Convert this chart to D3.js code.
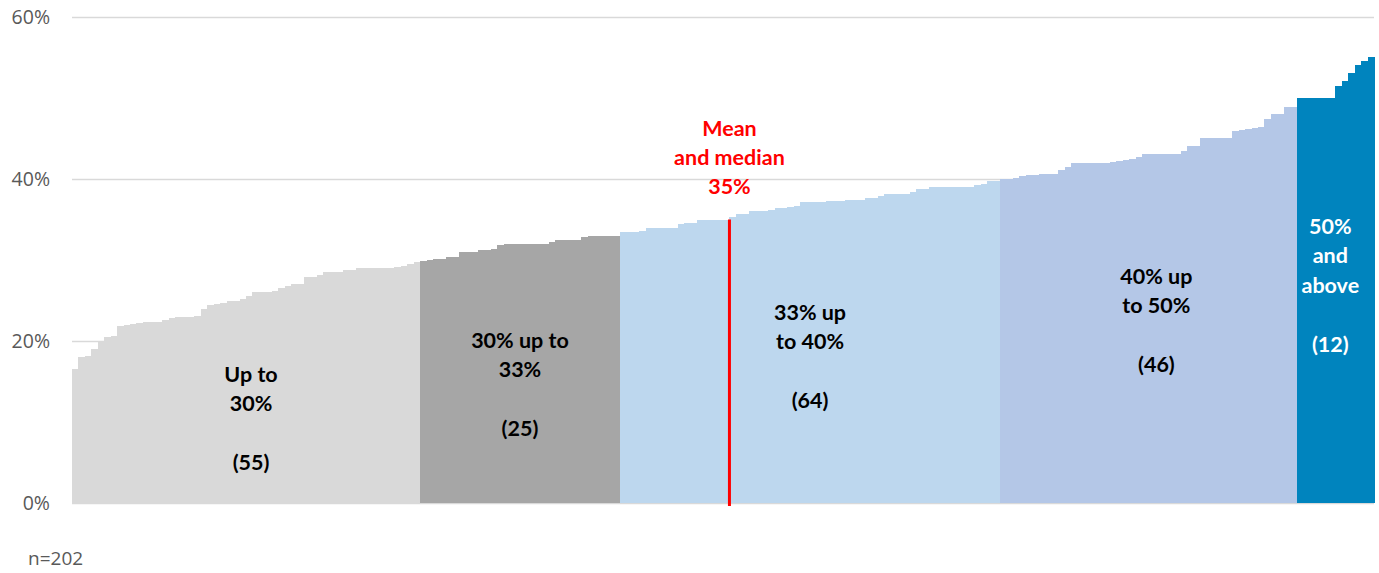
<!DOCTYPE html>
<html>
<head>
<meta charset="utf-8">
<script src="https://cdn.jsdelivr.net/npm/d3@7"></script>
<style>
  body { margin: 0; background: #fff; }
  svg { display: block; }
  .tick text { font-family: "Open Sans", sans-serif; }
</style>
</head>
<body>
<div id="canvas"></div>
<script>
// sorted values, one per respondent (%)
const values = [
  16.5, 18.0, 18.2, 19.0, 20.0, 20.5, 20.6, 21.8, 22.0, 22.1,
  22.2, 22.3, 22.3, 22.4, 22.6, 22.8, 23.0, 23.0, 23.0, 23.1,
  24.0, 24.5, 24.6, 24.7, 24.9, 25.0, 25.2, 25.5, 26.0, 26.0,
  26.0, 26.2, 26.5, 26.8, 27.0, 27.0, 27.9, 27.9, 28.1, 28.5,
  28.5, 28.5, 28.8, 28.8, 29.0, 29.0, 29.0, 29.0, 29.0, 29.0,
  29.1, 29.3, 29.5, 29.7,
  29.9, 30.0, 30.1, 30.1, 30.4, 30.4, 31.0, 31.0, 31.0, 31.2,
  31.2, 31.4, 31.9, 32.0, 32.0, 32.0, 32.0, 32.0, 32.0, 32.0,
  32.2, 32.5, 32.5, 32.5, 32.5, 32.8, 33.0, 33.0, 33.0, 33.0,
  33.0,
  33.4, 33.4, 33.4, 33.6, 34.0, 34.0, 34.0, 34.0, 34.0, 34.4,
  34.6, 34.6, 34.9, 34.9, 35.0, 35.0, 35.0, 35.3, 35.7, 35.7,
  36.0, 36.0, 36.0, 36.2, 36.4, 36.4, 36.6, 36.7, 37.1, 37.1,
  37.1, 37.1, 37.3, 37.3, 37.3, 37.45, 37.45, 37.45, 37.7, 37.7,
  37.9, 38.1, 38.1, 38.1, 38.2, 38.4, 38.8, 38.8, 39.05, 39.05,
  39.05, 39.05, 39.05, 39.05, 39.05, 39.3, 39.4, 39.7, 39.8,
  40.0, 40.0, 40.1, 40.4, 40.5, 40.5, 40.6, 40.6, 40.6, 41.1,
  41.5, 42.0, 42.0, 42.0, 42.0, 42.0, 42.0, 42.1, 42.2, 42.35,
  42.5, 42.7, 43.1, 43.1, 43.1, 43.1, 43.1, 43.1, 43.5, 44.1,
  44.1, 45.1, 45.1, 45.1, 45.1, 45.1, 45.9, 46.0, 46.2, 46.3,
  46.4, 47.4, 48.0, 48.0, 48.9, 48.9,
  50.0, 50.0, 50.0, 50.0, 50.0, 50.0, 51.5, 52.1, 53.1, 54.1,
  54.6, 55.1
];

// number of bars drawn in each band (left to right)
const groupSizes = [54, 31, 59, 46, 12];
const groupColors = ["#d9d9d9", "#a6a6a6", "#bdd7ee", "#b4c7e7", "#0084be"];
const groupLabels = [
  ["Up to", "30%", "", "(55)"],
  ["30% up to", "33%", "", "(25)"],
  ["33% up", "to 40%", "", "(64)"],
  ["40% up", "to 50%", "", "(46)"],
  ["50%", "and", "above", "", "(12)"]
];
const yTicks = [0, 20, 40, 60];
const meanValue = 35;
const meanLabel = ["Mean", "and median", "35%"];
const footnote = "n=202";

const W = 1379, H = 573;
const margin = {top: 17, right: 5, bottom: 70, left: 72};
const width = W - margin.left - margin.right;
const height = H - margin.top - margin.bottom;

// first-line y of each band label (page px), x shift from band centre
const labelTop = [374, 340, 312, 276, 226];
const labelShift = [5, 0, 0, 8, -5];
const lineH = 29.5;

// which band each bar belongs to
const groupOf = [];
groupSizes.forEach(function(n, g) { for (var i = 0; i < n; i++) groupOf.push(g); });

const svg = d3.select("#canvas").append("svg")
    .attr("width", W).attr("height", H)
  .append("g")
    .attr("transform", "translate(" + margin.left + "," + margin.top + ")");

const x = d3.scaleBand()
    .domain(d3.range(values.length))
    .range([0, width])
    .padding(0);

const y = d3.scaleLinear()
    .domain([0, 60])
    .range([height, 0]);

// gridlines + y labels
const yAxis = svg.append("g")
    .call(d3.axisLeft(y).tickValues(yTicks).tickSize(-width).tickPadding(22)
      .tickFormat(function(d) { return d + "%"; }));
yAxis.select(".domain").remove();
yAxis.selectAll(".tick line").attr("stroke", "#d9d9d9").attr("stroke-width", 1.5);
yAxis.selectAll(".tick text").attr("fill", "#595959").attr("font-size", 19.5);

// bars
svg.append("g")
    .attr("shape-rendering", "crispEdges")
  .selectAll("rect")
  .data(values)
  .enter()
  .append("rect")
    .attr("x", function(d, i) { return x(i); })
    .attr("y", function(d) { return y(d); })
    .attr("width", x.bandwidth() + 0.6)
    .attr("height", function(d) { return y(0) - y(d); })
    .attr("fill", function(d, i) { return groupColors[groupOf[i]]; });

// band labels
var start = 0;
groupSizes.forEach(function(n, g) {
  var cx = x(start) + n * x.bandwidth() / 2 + labelShift[g];
  var top = labelTop[g] - margin.top;
  svg.append("text")
      .attr("text-anchor", "middle")
      .attr("font-family", "Lato, sans-serif")
      .attr("font-weight", "bold")
      .attr("font-size", 21.5)
      .attr("fill", g === 4 ? "#ffffff" : "#000000")
    .selectAll("tspan")
    .data(groupLabels[g])
    .enter().append("tspan")
      .attr("x", cx)
      .attr("y", function(d, k) { return top + k * lineH; })
      .attr("dy", "0.35em")
      .text(function(d) { return d; });
  start += n;
});

// mean / median line
const meanX = x(d3.bisectRight(values, meanValue));
svg.append("line")
    .attr("x1", meanX).attr("x2", meanX)
    .attr("y1", y(meanValue)).attr("y2", y(0) + 3)
    .attr("stroke", "#ff0000")
    .attr("stroke-width", 3);

svg.append("text")
    .attr("text-anchor", "middle")
    .attr("font-family", "Lato, sans-serif")
    .attr("font-weight", "bold")
    .attr("font-size", 21.5)
    .attr("fill", "#ff0000")
  .selectAll("tspan")
  .data(meanLabel)
  .enter().append("tspan")
    .attr("x", meanX)
    .attr("y", function(d, k) { return y(meanValue) - 91 + k * 29; })
    .attr("dy", "0.35em")
    .text(function(d) { return d; });

svg.append("text")
    .attr("x", -44)
    .attr("y", height + 55)
    .attr("dy", "0.35em")
    .attr("font-family", "Open Sans, sans-serif")
    .attr("font-size", 19)
    .attr("fill", "#595959")
    .text(footnote);
</script>
</body>
</html>
